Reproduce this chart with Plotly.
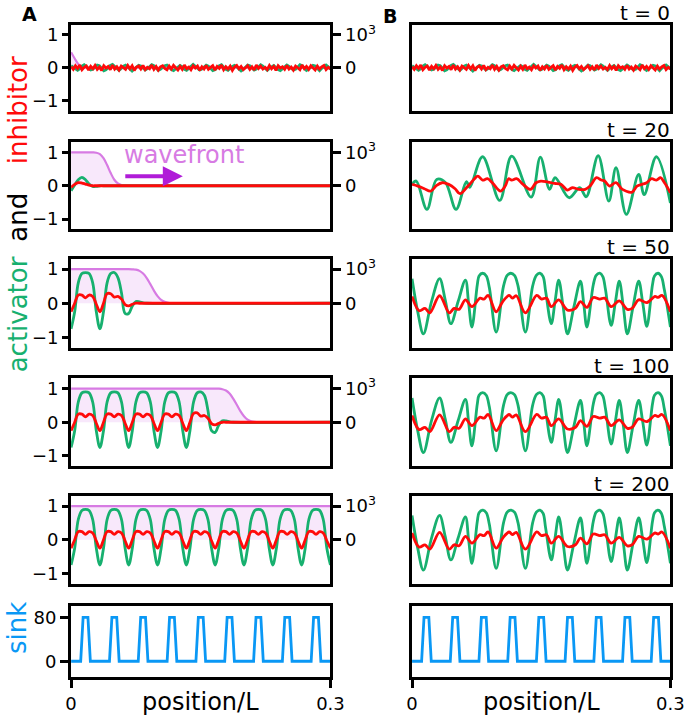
import numpy as np
import plotly.graph_objects as go

W, H = 699, 716
GREEN = "#17b06f"
RED = "#ff0a0a"
VIOLET = "#d77be3"
VFILL = "rgba(225,150,235,0.22)"
ARROW = "#b01cd8"
BLUE = "#0a98f5"
FONT = "DejaVu Sans"

# ---------------- data ----------------
# sampling positions (position/L)
grid = list(np.linspace(0, 0.3, 73))

# t = 0 : noisy initial state (same in A and B)
act_t0 = [0.06,0.02,-0.04,-0.08,-0.03,0.05,0.09,0.04,-0.02,-0.07,-0.05,0.03,0.08,0.06,-0.01,-0.09,-0.06,0.02,0.07,0.1,
          0.03,-0.04,-0.08,-0.02,0.05,0.08,0.01,-0.06,-0.1,-0.04,0.03,0.07,0.05,-0.02,-0.07,-0.03,0.04,0.09,0.06,-0.01,
          -0.08,-0.05,0.02,0.06,0.08,0.0,-0.06,-0.09,-0.03,0.04,0.07,0.03,-0.05,-0.08,-0.02,0.05,0.1,0.04,-0.03,-0.07,
          -0.04,0.02,0.08,0.05,-0.02,-0.09,-0.06,0.01,0.06,0.09,0.02,-0.05,-0.08,-0.01,0.04,0.07,0.03,-0.04,-0.1,-0.05,
          0.03,0.08,0.06,0.0,-0.07,-0.04,0.02,0.09,0.05,-0.03,-0.08,-0.02,0.04,0.07,0.01,-0.06,-0.09,-0.03,0.05,0.08,
          0.04,-0.02,-0.07,-0.05,0.03,0.09,0.06,-0.01,-0.08,-0.04,0.02,0.07,0.05,-0.03,-0.09,-0.02,0.04,0.08,0.03,-0.05]
inh_t0 = [0.03,-0.05,0.06,-0.02,0.08,-0.06,0.01,0.05,-0.07,0.04,-0.03,0.07,-0.05,0.02,-0.08,0.06,-0.01,0.04,-0.06,0.08,
          -0.04,0.03,-0.07,0.05,0.0,-0.05,0.07,-0.03,0.06,-0.08,0.02,0.05,-0.04,0.07,-0.06,0.01,-0.03,0.08,-0.05,0.04,
          -0.07,0.03,0.06,-0.02,-0.06,0.05,-0.04,0.07,0.0,-0.07,0.04,-0.05,0.08,-0.03,0.02,-0.06,0.06,-0.01,0.05,-0.08,
          0.03,-0.04,0.07,-0.05,0.01,0.06,-0.07,0.04,-0.02,0.08,-0.06,0.03,-0.04,0.05,-0.08,0.02,0.07,-0.03,0.04,-0.06,
          0.0,0.06,-0.05,0.03,-0.07,0.08,-0.02,0.05,-0.04,0.01,-0.06,0.07,-0.03,0.04,-0.08,0.06,-0.01,0.03,-0.05,0.07,
          -0.04,0.02,-0.07,0.05,0.0,-0.06,0.08,-0.03,0.04,-0.05,0.06,-0.02,-0.07,0.05,-0.04,0.03,0.07,-0.06,0.01,-0.03]
x_t0 = list(np.linspace(0, 0.3, len(inh_t0)))

# column A: growing domain, front values (last value is at position 0.3)
act_A2 = [-0.15, 0.02, 0.18, 0.25, 0.18, 0.05, -0.02, -0.02, 0.0, 0.0, 0.0]
inh_A2 = [-0.05, 0.04, 0.09, 0.08, 0.05, 0.02, 0.0, 0.0, 0.0]
act_A3 = [-0.75, -0.25, 0.6, 0.87, 0.9, 0.87, 0.6, -0.25,
          -0.75, -0.25, 0.6, 0.87, 0.9, 0.75, 0.3, -0.3, -0.3, -0.08, 0.05, 0.04, 0.01, 0.0, 0.0]
inh_A3 = [-0.25, 0.0, 0.24, 0.24, 0.16, 0.24, 0.2, -0.03,
          -0.25, 0.0, 0.28, 0.28, 0.18, 0.2, 0.12, -0.04, -0.08, -0.03, 0.0, 0.0, 0.0]
act_A4 = [-0.75, -0.25, 0.6, 0.87, 0.9, 0.87, 0.6, -0.25,
          -0.75, -0.25, 0.6, 0.87, 0.9, 0.87, 0.6, -0.25,
          -0.75, -0.25, 0.6, 0.87, 0.9, 0.87, 0.6, -0.25,
          -0.75, -0.25, 0.6, 0.87, 0.9, 0.87, 0.6, -0.25,
          -0.75, -0.25, 0.6, 0.87, 0.9, 0.8, 0.35, -0.25, -0.3, -0.08, 0.04, 0.04, 0.01, 0.0, 0.0]
inh_A4 = [-0.25, 0.0, 0.24, 0.24, 0.16, 0.24, 0.2, -0.03,
          -0.25, 0.0, 0.24, 0.24, 0.16, 0.24, 0.2, -0.03,
          -0.25, 0.0, 0.24, 0.24, 0.16, 0.24, 0.2, -0.03,
          -0.25, 0.0, 0.24, 0.24, 0.16, 0.24, 0.2, -0.03,
          -0.25, 0.0, 0.26, 0.28, 0.18, 0.2, 0.12, -0.04, -0.08, -0.03, 0.0, 0.0, 0.0]
act_A5 = [-0.75, -0.25, 0.6, 0.87, 0.9, 0.87, 0.6, -0.25,
          -0.75, -0.25, 0.6, 0.87, 0.9, 0.87, 0.6, -0.25,
          -0.75, -0.25, 0.6, 0.87, 0.9, 0.87, 0.6, -0.25,
          -0.75, -0.25, 0.6, 0.87, 0.9, 0.87, 0.6, -0.25,
          -0.75, -0.25, 0.6, 0.87, 0.9, 0.87, 0.6, -0.25,
          -0.75, -0.25, 0.6, 0.87, 0.9, 0.87, 0.6, -0.25,
          -0.75, -0.25, 0.6, 0.87, 0.9, 0.87, 0.6, -0.25,
          -0.75, -0.25, 0.6, 0.87, 0.9, 0.87, 0.6, -0.25,
          -0.75, -0.25, 0.6, 0.87, 0.9, 0.87, 0.6, -0.25,
          -0.75]
inh_A5 = [-0.25, 0.0, 0.24, 0.24, 0.16, 0.24, 0.2, -0.03,
          -0.25, 0.0, 0.24, 0.24, 0.16, 0.24, 0.2, -0.03,
          -0.25, 0.0, 0.24, 0.24, 0.16, 0.24, 0.2, -0.03,
          -0.25, 0.0, 0.24, 0.24, 0.16, 0.24, 0.2, -0.03,
          -0.25, 0.0, 0.24, 0.24, 0.16, 0.24, 0.2, -0.03,
          -0.25, 0.0, 0.24, 0.24, 0.16, 0.24, 0.2, -0.03,
          -0.25, 0.0, 0.24, 0.24, 0.16, 0.24, 0.2, -0.03,
          -0.25, 0.0, 0.24, 0.24, 0.16, 0.24, 0.2, -0.03,
          -0.25, 0.0, 0.24, 0.24, 0.16, 0.24, 0.2, -0.03,
          -0.25]

# wavefront (right axis): first value at 0, slice of grid, last at 0.3
front_A1 = [470, 280, 110, 25, 3, 0, 0]
front_A2 = [1000, 1000, 990, 950, 830, 620, 380, 180, 70, 20, 5, 0, 0]
front_A3 = [1000, 1000, 995, 985, 950, 870, 740, 560, 370, 210, 100, 40, 12, 3, 0, 0]
front_A4 = [1000, 1000, 995, 980, 940, 850, 700, 520, 330, 180, 80, 30, 10, 2, 0, 0]
front_A5 = [1000, 1000]

# column B: fixed domain, t = 20
x_act_B20 = [0.0, 0.0049, 0.0173, 0.0286, 0.0387, 0.0511, 0.0631, 0.067, 0.0819, 0.1018, 0.1157, 0.1383, 0.149,
             0.1597, 0.1661, 0.1823, 0.1947, 0.2022, 0.2161, 0.2285, 0.2368, 0.2488, 0.2631, 0.2695, 0.2837, 0.3]
act_B20 = [0.05, 0.14, -0.71, 0.19, 0.1, -0.71, 0.12, -0.05, 0.87, -0.44, 0.89, -0.34, 0.86,
           -0.11, 0.24, -0.36, -0.06, -0.33, 0.9, -0.46, 0.54, -0.86, 0.34, -0.27, 0.87, -0.52]
x_inh_B20 = [0.0, 0.0068, 0.0143, 0.0218, 0.0286, 0.035, 0.0425, 0.05, 0.0556, 0.065, 0.0725, 0.0763, 0.0819,
             0.0876, 0.0932, 0.1026, 0.1082, 0.112, 0.1157, 0.1214, 0.1289, 0.1375, 0.1439, 0.1496, 0.1578, 0.1654,
             0.1729, 0.1804, 0.186, 0.1935, 0.2011, 0.2067, 0.2142, 0.2198, 0.2236, 0.2292, 0.2368, 0.2443, 0.2555,
             0.2612, 0.2668, 0.2724, 0.2781, 0.2837, 0.2886, 0.2931, 0.3]
inh_B20 = [0.04, -0.01, -0.09, -0.16, 0.01, 0.09, 0.04, -0.09, -0.24, -0.01, 0.21, 0.29, 0.17,
           0.21, 0.09, -0.16, -0.01, 0.21, 0.17, 0.21, 0.04, -0.11, 0.09, 0.14, 0.11, 0.07,
           0.04, -0.13, -0.06, -0.11, -0.11, -0.01, 0.24, 0.17, 0.14, -0.01, 0.09, -0.11, -0.19,
           -0.01, 0.04, 0.09, 0.21, 0.17, 0.24, 0.09, -0.21]

# column B: t = 50, 100, 200 (settled pattern)
x_act_Bs = [0.0, 0.0066, 0.0132, 0.0226, 0.032, 0.0385, 0.0451, 0.0535, 0.062, 0.0657, 0.0695, 0.0758,
            0.0778, 0.082, 0.0862, 0.0898, 0.0977, 0.1062, 0.1105, 0.1147, 0.1189, 0.1231, 0.1316, 0.14,
            0.1443, 0.1485, 0.1522, 0.1551, 0.1617, 0.166, 0.1703, 0.1754, 0.1805, 0.188, 0.1955, 0.1993,
            0.203, 0.2105, 0.2138, 0.218, 0.2215, 0.2246, 0.2312, 0.2359, 0.2406, 0.2453, 0.25, 0.2566,
            0.2632, 0.2679, 0.2726, 0.2792, 0.2815, 0.2857, 0.2895, 0.2929, 0.3]
act_Bs = [0.72, -0.25, -0.9, 0.05, 0.72, 0.1, -0.6, 0.05, 0.68, 0.0, -0.7, 0.55,
          0.8, 0.88, 0.8, 0.45, -0.85, 0.5, 0.82, 0.88, 0.82, 0.5, -0.85, 0.5,
          0.82, 0.88, 0.78, 0.35, -0.6, 0.05, 0.68, -0.1, -0.9, -0.1, 0.65, 0.0,
          -0.7, 0.55, 0.82, 0.88, 0.78, 0.4, -0.65, 0.0, 0.65, -0.1, -0.9, -0.1,
          0.65, 0.0, -0.68, 0.55, 0.8, 0.88, 0.78, 0.4, -0.7]
x_inh_Bs = [0.0, 0.0083, 0.015, 0.0207, 0.032, 0.0432, 0.0489, 0.0545, 0.062, 0.0695, 0.079, 0.0835, 0.0883,
            0.0977, 0.1053, 0.1128, 0.1165, 0.121, 0.1316, 0.1447, 0.1504, 0.156, 0.1617, 0.1703, 0.1805, 0.1898,
            0.1955, 0.203, 0.2105, 0.218, 0.2237, 0.2312, 0.2406, 0.25, 0.2556, 0.2632, 0.2726, 0.282, 0.2857,
            0.2902, 0.3]
inh_Bs = [0.2, -0.22, -0.15, -0.28, 0.22, -0.28, -0.15, -0.18, 0.1, -0.1, 0.15, 0.12, 0.23,
          -0.25, 0.05, 0.23, 0.15, 0.22, -0.28, 0.23, 0.12, 0.15, -0.1, 0.1, -0.2, -0.15,
          0.05, -0.12, 0.17, 0.12, 0.15, -0.1, 0.07, -0.18, -0.15, 0.1, 0.02, 0.2, 0.17,
          0.23, -0.25]

# sink profile (same in A and B)
sink_x = [0.0,
          0.0111, 0.0139, 0.0195, 0.0223, 0.0444, 0.0472, 0.0528, 0.0556,
          0.0777, 0.0805, 0.0861, 0.0889, 0.1111, 0.1139, 0.1195, 0.1223,
          0.1444, 0.1472, 0.1528, 0.1556, 0.1777, 0.1805, 0.1861, 0.1889,
          0.2111, 0.2139, 0.2195, 0.2223, 0.2444, 0.2472, 0.2528, 0.2556,
          0.2777, 0.2805, 0.2861, 0.2889, 0.3]
sink_y = [0,
          0, 80, 80, 0, 0, 80, 80, 0,
          0, 80, 80, 0, 0, 80, 80, 0,
          0, 80, 80, 0, 0, 80, 80, 0,
          0, 80, 80, 0, 0, 80, 80, 0,
          0, 80, 80, 0, 0]

time_labels = ["t = 0", "t = 20", "t = 50", "t = 100", "t = 200"]
left_ticks = [-1, 0, 1]
right_ticks = [0, 1000]
right_ticktext = ["0", "10<sup>3</sup>"]
sink_ticks = [0, 80]
x_ticks = [0, 0.3]
x_ticktext = ["0", "0.3"]

# ---------------- layout geometry ----------------
rows_px = [(22, 108), (140, 227), (257, 346), (377, 465), (495, 583), (606, 677)]
cols_px = [(67, 334), (418, 684)]


def xdom(c):
    return [cols_px[c][0] / W, cols_px[c][1] / W]


def ydom(r):
    return [1 - rows_px[r][1] / H, 1 - rows_px[r][0] / H]


frame = dict(showline=True, mirror=True, linecolor="black", linewidth=3,
             showgrid=False, zeroline=False)
tickstyle = dict(ticks="outside", ticklen=8, tickwidth=2.5, tickcolor="black",
                 tickfont=dict(family=FONT, size=18, color="black"))

fig = go.Figure()
layout = {}


def ax(name):
    return name if name != "1" else ""


for r in range(6):
    for c in range(2):
        i = r * 2 + c + 1
        xa = dict(domain=xdom(c), anchor="y" + ax(str(i)), range=[0, 0.3], **frame)
        if r == 5:
            xa.update(tickvals=x_ticks, ticktext=x_ticktext, **tickstyle)
        else:
            xa.update(ticks="", showticklabels=False)
        layout["xaxis" + ax(str(i))] = xa
        ya = dict(domain=ydom(r), anchor="x" + ax(str(i)), **frame)
        if r == 5:
            ya.update(range=[-29, 100])
            if c == 0:
                ya.update(tickvals=sink_ticks, **tickstyle)
            else:
                ya.update(ticks="", showticklabels=False)
        else:
            if c == 0:
                ya.update(range=[-1300, 1300], side="right", tickvals=right_ticks,
                          ticktext=right_ticktext, **tickstyle)
            else:
                ya.update(range=[-1.3, 1.3], ticks="", showticklabels=False)
        layout["yaxis" + ax(str(i))] = ya

# overlay left axes for column A rows 1-5
for r in range(5):
    base = r * 2 + 1
    layout["yaxis%d" % (13 + r)] = dict(
        overlaying="y" + ax(str(base)), anchor="x" + ax(str(base)), side="left",
        range=[-1.3, 1.3], tickvals=left_ticks, showline=False, showgrid=False,
        zeroline=False, **tickstyle)


def line(x, y, xa, ya, color, width=2.8, shape="spline", fill=None):
    fig.add_trace(go.Scatter(
        x=x, y=y, xaxis=xa, yaxis=ya, mode="lines",
        line=dict(color=color, width=width, shape=shape),
        fill=fill, fillcolor=VFILL if fill else None,
        hoverinfo="skip", showlegend=False))


# column A wavefronts (base right axis)
fronts = [
    (list(grid[0:6]) + [0.3], front_A1),
    ([0.0] + list(grid[6:17]) + [0.3], front_A2),
    ([0.0] + list(grid[16:30]) + [0.3], front_A3),
    ([0.0] + list(grid[40:54]) + [0.3], front_A4),
    ([0.0, 0.3], front_A5),
]
for r, (fx, fy) in enumerate(fronts):
    i = r * 2 + 1
    line(fx, fy, "x" + ax(str(i)), "y" + ax(str(i)), VIOLET, width=2.2, fill="tozeroy")

# column A activator / inhibitor (left overlay axes)
colA = [
    (x_t0, act_t0, x_t0, inh_t0, "linear"),
    (list(grid[:10]) + [0.3], act_A2, list(grid[:8]) + [0.3], inh_A2, "spline"),
    (list(grid[:22]) + [0.3], act_A3, list(grid[:20]) + [0.3], inh_A3, "spline"),
    (list(grid[:46]) + [0.3], act_A4, list(grid[:44]) + [0.3], inh_A4, "spline"),
    (grid, act_A5, grid, inh_A5, "spline"),
]
for r, (xa_, ya_, xi_, yi_, sh) in enumerate(colA):
    i = r * 2 + 1
    line(xa_, ya_, "x" + ax(str(i)), "y%d" % (13 + r), GREEN, shape=sh)
    line(xi_, yi_, "x" + ax(str(i)), "y%d" % (13 + r), RED, shape=sh)

# column B
colB = [
    (x_t0, act_t0, x_t0, inh_t0, "linear"),
    (x_act_B20, act_B20, x_inh_B20, inh_B20, "spline"),
    (x_act_Bs, act_Bs, x_inh_Bs, inh_Bs, "spline"),
    (x_act_Bs, act_Bs, x_inh_Bs, inh_Bs, "spline"),
    (x_act_Bs, act_Bs, x_inh_Bs, inh_Bs, "spline"),
]
for r, (xa_, ya_, xi_, yi_, sh) in enumerate(colB):
    i = r * 2 + 2
    line(xa_, ya_, "x%d" % i, "y%d" % i, GREEN, shape=sh)
    line(xi_, yi_, "x%d" % i, "y%d" % i, RED, shape=sh)

# sink
line(sink_x, sink_y, "x11", "y11", BLUE, shape="linear")
line(sink_x, sink_y, "x12", "y12", BLUE, shape="linear")

# ---------------- annotations ----------------
ann = []


def text(s, px, py, size, color="black", xanchor="center", angle=0):
    ann.append(dict(text=s, x=px / W, y=1 - py / H, xref="paper", yref="paper",
                    xanchor=xanchor, yanchor="middle", showarrow=False, textangle=angle,
                    font=dict(family=FONT, size=size, color=color)))


for r, t in enumerate(time_labels):
    text(t, 686, rows_px[r][0] - 12, 20, xanchor="right")
text("<b>A</b>", 24, 11, 19)
text("<b>B</b>", 395, 13, 19)
text("wavefront", 183, 153, 24, color=VIOLET)
text("activator", 12, 313, 26, color=GREEN, angle=-90)
text("and", 12, 215, 26, color="black", angle=-90)
text("inhibitor", 12, 108, 26, color=RED, angle=-90)
text("sink", 12, 628, 26, color=BLUE, angle=-90)
text("position/L", 200, 702, 24)
text("position/L", 551, 702, 24)

ann.append(dict(text="", x=182 / W, y=1 - 174 / H, xref="paper", yref="paper",
                showarrow=True, ax=-59, ay=0, arrowhead=2, arrowsize=1,
                arrowwidth=4, arrowcolor=ARROW, standoff=0))

fig.update_layout(
    width=W, height=H, margin=dict(l=0, r=0, t=0, b=0),
    paper_bgcolor="white", plot_bgcolor="white", showlegend=False,
    font=dict(family=FONT, size=18, color="black"),
    annotations=ann, **layout)

fig.write_html("out.html", config={"displayModeBar": False},
               post_script="document.body.style.margin='0px';document.body.style.overflow='hidden';")
